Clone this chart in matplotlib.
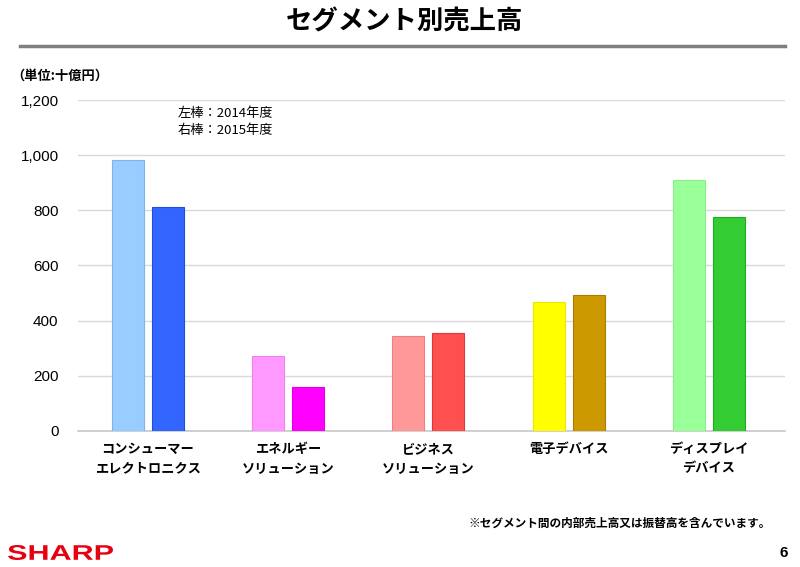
import matplotlib
matplotlib.use("Agg")
import matplotlib.pyplot as plt
import numpy as np
from matplotlib.textpath import TextPath
from matplotlib.patches import PathPatch
from matplotlib.font_manager import FontProperties
from matplotlib.transforms import Affine2D

plt.rcParams['font.family'] = ['Noto Sans CJK JP', 'DejaVu Sans']

categories = ["コンシューマー\nエレクトロニクス", "エネルギー\nソリューション", "ビジネス\nソリューション",
              "電子デバイス", "ディスプレイ\nデバイス"]
sales_2014 = [982, 272, 344, 468, 910]
sales_2015 = [811, 158, 356, 492, 775]
colors_2014 = ["#99CCFF", "#FF99FF", "#FF9999", "#FFFF00", "#99FF99"]
colors_2015 = ["#3366FF", "#FF00FF", "#FF5050", "#CC9900", "#33CC33"]
edges_2014 = ["#7FB2F0", "#F080F0", "#F08080", "#E8E800", "#88EE88"]
edges_2015 = ["#1F4FD8", "#E000E0", "#D83A3A", "#A87E00", "#22AA22"]
yticks = [0, 200, 400, 600, 800, 1000, 1200]
ytick_labels = ["0", "200", "400", "600", "800", "1,000", "1,200"]

W, H = 800, 567
fig = plt.figure(figsize=(8, 5.67), dpi=100)
ax = fig.add_axes([0.0975, 0.2399, 0.8835, 0.5837])

x = np.arange(len(categories))
w = 0.228
off = 0.143
ax.bar(x - off, sales_2014, width=w, color=colors_2014, edgecolor=edges_2014, linewidth=0.8, zorder=3)
ax.bar(x + off, sales_2015, width=w, color=colors_2015, edgecolor=edges_2015, linewidth=0.8, zorder=3)

ax.set_xlim(-0.499, 4.542)
ax.set_ylim(0, 1200)
ax.set_yticks(yticks)
ax.set_yticklabels(ytick_labels, family=['Liberation Sans', 'DejaVu Sans'], fontsize=11)
ax.yaxis.grid(True, color="#D9D9D9", linewidth=1.0, zorder=0)
ax.tick_params(axis='y', length=0, pad=14)
ax.set_xticks(x)
ax.set_xticklabels(categories, fontsize=9.5, fontweight='bold', linespacing=1.5)
ax.tick_params(axis='x', length=0, pad=8)
for s in ["top", "right", "left"]:
    ax.spines[s].set_visible(False)
ax.spines["bottom"].set_color("#C8C8C8")
ax.spines["bottom"].set_linewidth(1.2)

# title and rule
fig.text(0.505, 0.962, "セグメント別売上高", ha='center', va='center', fontsize=19, fontweight='bold')
fig.add_artist(plt.Line2D([0.025, 0.981], [0.918, 0.918], color="#7F7F7F", linewidth=2.5))

fig.text(0.014, 0.866, "（単位:十億円）", ha='left', va='center', fontsize=9.5, fontweight='bold')
fig.text(0.222, 0.800, "左棒：2014年度", ha='left', va='center', fontsize=9.5)
fig.text(0.222, 0.770, "右棒：2015年度", ha='left', va='center', fontsize=9.5)

fig.text(0.964, 0.077, "※セグメント間の内部売上高又は振替高を含んでいます。", ha='right', va='center',
         fontsize=8.4, fontweight='bold')

# SHARP logo, stretched to its box (pixels: x 8-113, y 545-560 from top)
tp = TextPath((0, 0), "SHARP", size=10,
              prop=FontProperties(family=['Liberation Sans'], weight='bold'))
ext = tp.get_extents()
x0, x1, ytop, ybot = 8, 113, 545, 560
sx = (x1 - x0) / ext.width
sy = (ybot - ytop) / ext.height
tr = Affine2D().translate(-ext.x0, -ext.y0).scale(sx / W, sy / H).translate(x0 / W, 1 - ybot / H)
logo = PathPatch(tr.transform_path(tp), facecolor="#E60012", edgecolor="none",
                 transform=fig.transFigure)
fig.add_artist(logo)

fig.text(0.985, 0.025, "6", ha='right', va='center', fontsize=11, fontweight='bold',
         family=['Liberation Sans', 'DejaVu Sans'])

fig.savefig("out.png", dpi=100)
